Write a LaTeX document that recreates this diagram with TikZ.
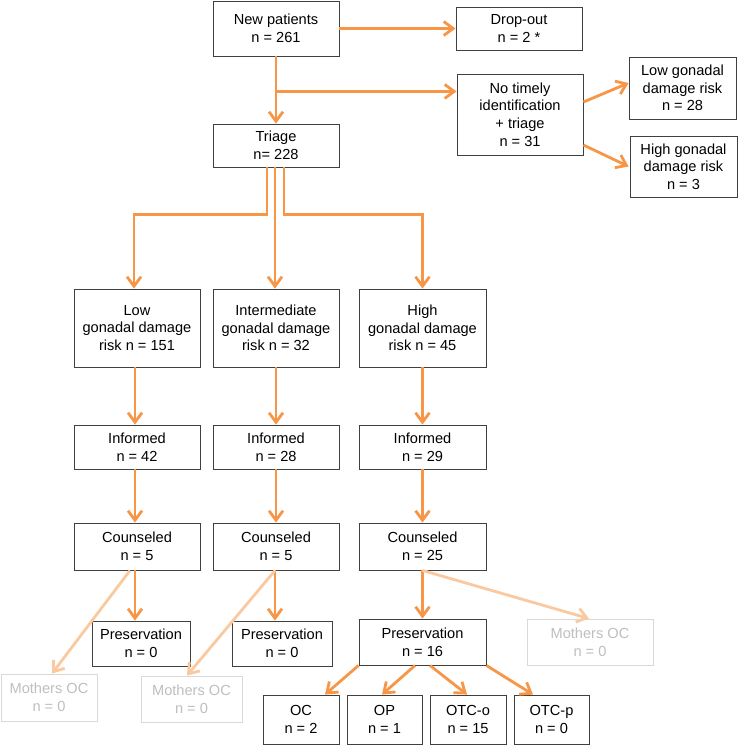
\documentclass[tikz,border=0pt]{standalone}
\usepackage{fontspec}
\setmainfont{Liberation Sans}
\usetikzlibrary{arrows.meta,calc}
\definecolor{orng}{HTML}{F79646}
\definecolor{faint}{HTML}{FAC9A0}
\definecolor{bord}{HTML}{404040}
\definecolor{gbord}{HTML}{D9D9D9}
\definecolor{gtext}{HTML}{BFBFBF}
\begin{document}
\begin{tikzpicture}[x=1pt,y=-1pt,
  box/.style={draw=bord,line width=0.9pt,inner sep=0pt,align=center,
    font=\fontsize{14.6}{17.7}\selectfont,fill=white},
  gbox/.style={box,draw=gbord,text=gtext},
  arr/.style={draw=orng,line width=2.8pt,-{Straight Barb[length=9.5pt,width=14pt]}},
  farr/.style={arr,draw=faint}]
\useasboundingbox (0,0) rectangle (738,745);
% top
\node[box,minimum width=126pt,minimum height=55pt] (np) at (276,28.5) {New patients\\n = 261};
\node[box,minimum width=126pt,minimum height=43pt] (drop) at (519,28.5) {Drop-out\\n = 2 *};
\node[box,minimum width=126pt,minimum height=81pt] (nt) at (520,114.5) {No timely\\identification\\+ triage\\n = 31};
\node[box,minimum width=107pt,minimum height=62pt] (lowr) at (682.5,88) {Low gonadal\\damage risk\\n = 28};
\node[box,minimum width=107pt,minimum height=61pt] (highr) at (683.5,166.5) {High gonadal\\damage risk\\n = 3};
\node[box,minimum width=126pt,minimum height=43pt] (tri) at (276,145.5) {Triage\\n= 228};
% risk row
\node[box,minimum width=126pt,minimum height=78pt] (low) at (137,328) {Low\\gonadal damage\\risk n = 151};
\node[box,minimum width=126pt,minimum height=78pt] (inter) at (276,328) {Intermediate\\gonadal damage\\risk n = 32};
\node[box,minimum width=127pt,minimum height=78pt] (high) at (422.5,328) {High\\gonadal damage\\risk n = 45};
% informed
\node[box,minimum width=126pt,minimum height=44pt] (il) at (137,447) {Informed\\n = 42};
\node[box,minimum width=126pt,minimum height=44pt] (ii) at (276,447) {Informed\\n = 28};
\node[box,minimum width=127pt,minimum height=44pt] (ih) at (422.5,447) {Informed\\n = 29};
% counseled
\node[box,minimum width=126pt,minimum height=47pt] (cl) at (137,546.5) {Counseled\\n = 5};
\node[box,minimum width=126pt,minimum height=47pt] (ci) at (276,546.5) {Counseled\\n = 5};
\node[box,minimum width=127pt,minimum height=47pt] (ch) at (422.5,546.5) {Counseled\\n = 25};
% preservation
\node[box,minimum width=98pt,minimum height=45pt] (pl) at (141,643.5) {Preservation\\n = 0};
\node[box,minimum width=100pt,minimum height=45pt] (pi) at (282,643.5) {Preservation\\n = 0};
\node[box,minimum width=127pt,minimum height=46pt] (ph) at (422.5,642) {Preservation\\n = 16};
% mothers
\node[gbox,minimum width=96pt,minimum height=47pt] (ml) at (49,697.5) {Mothers OC\\n = 0};
\node[gbox,minimum width=101pt,minimum height=46pt] (mi) at (191.5,699) {Mothers OC\\n = 0};
\node[gbox,minimum width=126pt,minimum height=46pt] (mh) at (590,642) {Mothers OC\\n = 0};
% methods
\node[box,minimum width=76pt,minimum height=49pt] (oc) at (301,719.5) {OC\\n = 2};
\node[box,minimum width=75pt,minimum height=49pt] (op) at (384.5,719.5) {OP\\n = 1};
\node[box,minimum width=76pt,minimum height=49pt] (otco) at (468,719.5) {OTC-o\\n = 15};
\node[box,minimum width=75pt,minimum height=49pt] (otcp) at (551.5,719.5) {OTC-p\\n = 0};
% connectors top
\draw[arr] (np.east) -- (drop.west);
\draw[arr] (np.south) -- (tri.north);
\coordinate (br) at ($(np.south)+(0,35)$);
\draw[arr] (br) -- (nt.west |- br);
\draw[arr] ([yshift=12.5pt]nt.east) -- ([yshift=5pt]lowr.west);
\draw[arr] ([yshift=-30.5pt]nt.east) -- ([xshift=-1pt]highr.west);
% triage branches
\draw[arr] ([xshift=-9pt]tri.south) -- ++(0,47) -| ([xshift=-3pt]low.north);
\draw[arr] ([xshift=-1pt]tri.south) -- ([xshift=-1pt]inter.north);
\draw[arr] ([xshift=8pt]tri.south) -- ++(0,47) -| (high.north);
% columns
\draw[arr] ([xshift=-2pt]low.south) -- ([xshift=-2pt]il.north);
\draw[arr] ([xshift=-2pt]il.south) -- ([xshift=-2pt]cl.north);
\draw[arr] ([xshift=-2pt]cl.south) -- ([xshift=-2pt]cl.south |- pl.north);
\draw[arr] (inter.south) -- (ii.north);
\draw[arr] (ii.south) -- (ci.north);
\draw[arr] ([xshift=-1pt]ci.south) -- ([xshift=-1pt]ci.south |- pi.north);
\draw[arr] (high.south) -- (ih.north);
\draw[arr] (ih.south) -- (ch.north);
\draw[arr] (ch.south) -- (ph.north);
% faded
\draw[farr] ([xshift=-7pt]cl.south) -- ([xshift=3pt]ml.north);
\draw[farr] ([xshift=-1pt]ci.south) -- ([xshift=-4.5pt]mi.north);
\draw[farr] (ch.south) -- ([xshift=-1pt]mh.north);
% methods
\draw[arr] (ph.south west) -- ([xshift=24pt]oc.north);
\draw[arr] ([xshift=-7.5pt]ph.south) -- ([xshift=-2.5pt]op.north);
\draw[arr] ([xshift=7.5pt]ph.south) -- ([xshift=-1pt]otco.north);
\draw[arr] (ph.south east) -- ([xshift=-18.5pt]otcp.north);
\end{tikzpicture}
\end{document}
